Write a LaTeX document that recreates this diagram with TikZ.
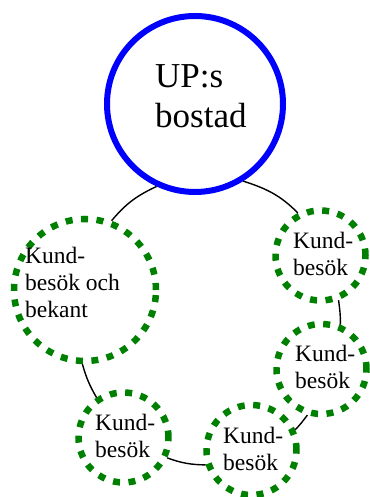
\documentclass[tikz,border=0pt]{standalone}
\usepackage{fontspec}
\setmainfont{Liberation Serif}
\definecolor{dotgreen}{RGB}{0,128,0}
\definecolor{upblue}{RGB}{0,0,255}
\begin{document}
\begin{tikzpicture}[x=1pt,y=1pt,
  home/.style={circle,draw=upblue,line width=6pt,minimum size=176pt,inner sep=0pt},
  visit/.style={circle,draw=dotgreen,line width=6.5pt,dash pattern=on 7pt off 8.5pt,inner sep=0pt},
  bigtxt/.style={anchor=west,align=left,inner sep=0pt,font=\fontsize{35}{40}\selectfont},
  smalltxt/.style={anchor=west,align=left,inner sep=0pt,font=\fontsize{23.5}{27}\selectfont},
  conn/.style={draw=black,line width=1.4pt}]
\useasboundingbox (0,0) rectangle (369,497);
\node[home] (up) at (195,393) {};
\node[visit,minimum size=142pt] (kb) at (85,207) {};
\node[visit,minimum size=90pt] (k1) at (320.5,241.5) {};
\node[visit,minimum size=90pt] (k2) at (321.5,128) {};
\node[visit,minimum size=90pt] (k3) at (251.5,47) {};
\node[visit,minimum size=90pt] (k4) at (123.5,59.5) {};
\node[bigtxt] (tup) at (155,401) {UP:s\\bostad};
\node[smalltxt] (tkb) at (25,214.4) {Kund-\\besök och\\bekant};
\node[smalltxt] (tk1) at (293,243.5) {Kund-\\besök};
\node[smalltxt] (tk2) at (295,130) {Kund-\\besök};
\node[smalltxt] (tk3) at (223,48.5) {Kund-\\besök};
\node[smalltxt] (tk4) at (95,61.5) {Kund-\\besök};
\draw[conn] (up.245) to[out=205,in=50] (kb.69);
\draw[conn] (kb.268) to[out=286,in=120] (k4.124);
\draw[conn] (k4.335) to[out=340,in=179] (k3.198);
\draw[conn] (k3.25.6) to[out=44,in=231.6] (k2.253.2);
\draw[conn] (k2.67.6) to[out=88.5,in=277.1] (k1.292.2);
\draw[conn] (k1.118.8) to[out=135,in=342.5] (up.302.8);
\end{tikzpicture}
\end{document}
